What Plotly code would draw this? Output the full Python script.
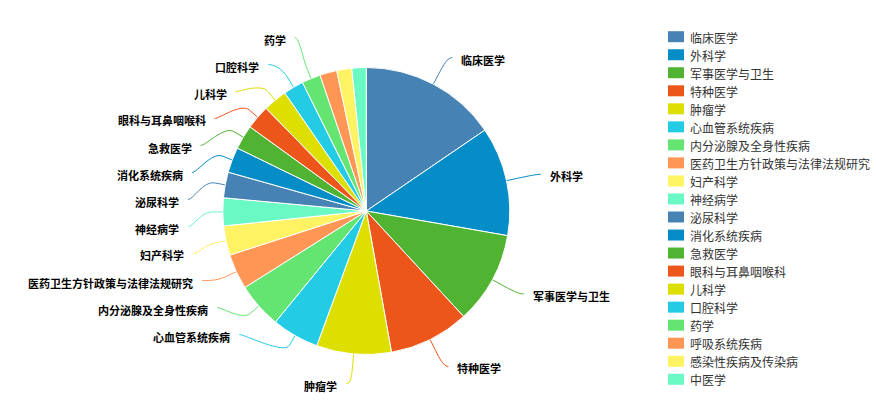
import math
import plotly.graph_objects as go

# ---- data -------------------------------------------------------------
categories = [
    "临床医学", "外科学", "军事医学与卫生", "特种医学", "肿瘤学",
    "心血管系统疾病", "内分泌腺及全身性疾病", "医药卫生方针政策与法律法规研究",
    "妇产科学", "神经病学", "泌尿科学", "消化系统疾病", "急救医学",
    "眼科与耳鼻咽喉科", "儿科学", "口腔科学", "药学", "呼吸系统疾病",
    "感染性疾病及传染病", "中医学",
]
values = [557, 442, 374, 326, 303, 191, 185, 143, 119, 113,
          104, 103, 99, 98, 97, 82, 76, 69, 61, 58]
palette = ["#4682B4", "#058DC7", "#50B432", "#ED561B", "#DDDF00",
           "#24CBE5", "#64E572", "#FF9655", "#FFF263", "#6AF9C4"]
colors = [palette[i % len(palette)] for i in range(len(categories))]

# ---- geometry (pixels) ------------------------------------------------
W, H = 876, 407
CX, CY, RAD = 366.3, 211.0, 143.5
LABEL_DIST = 30          # label distance outside the pie
LABEL_H = 27             # height of one label slot
CONNECTOR_OFFSET = 11    # break point of the connector outside the slice
TEXT_GAP = 12
CONN_GAP = 5


def fx(x):
    return x / W


def fy(y):
    return 1 - y / H


total = float(sum(values))
pts = []
cum = 0.0
for i, v in enumerate(values):
    mid = (cum + v / 2.0) / total * 2 * math.pi   # clockwise from 12 o'clock
    cum += v
    s, c = math.sin(mid), math.cos(mid)
    pts.append({
        "i": i, "v": v, "mid": mid,
        "left": s < 0,
        "ny": CY - (RAD + LABEL_DIST) * c,
        "edge": (CX + RAD * s, CY - RAD * c),
        "brk": (CX + (RAD + CONNECTOR_OFFSET) * s, CY - (RAD + CONNECTOR_OFFSET) * c),
    })

RL = RAD + LABEL_DIST


def get_x(y, left):
    d = max(-1.0, min(1.0, (y - CY) / RL))
    return CX + (-1 if left else 1) * math.cos(math.asin(d)) * RL


# slot based label placement, each half of the pie on its own
placed = []
for left in (False, True):
    half = [p for p in pts if p["left"] == left]
    half.sort(key=lambda p: p["ny"])
    slots = []
    pos = CY - RL
    while pos <= CY + RL + 1e-9:
        slots.append(pos)
        pos += LABEL_H
    n_slots = len(slots)
    # too many labels for the slots: drop the smallest slices
    if len(half) > n_slots:
        ranked = sorted(half, key=lambda p: -p["v"])
        keep = set(p["i"] for p in ranked[:n_slots])
        half = [p for p in half if p["i"] in keep]
    n = len(half)
    used = []
    for j, p in enumerate(half):
        best, idx = 1e9, 0
        for k in range(n_slots):
            d = abs((slots[k] if slots[k] is not None else 0) - p["ny"])
            if d < best:
                best, idx = d, k
        if idx < j and j < n_slots and slots[j] is not None:
            idx = j
        elif n_slots < n - j + idx and j < n_slots and slots[j] is not None:
            idx = n_slots - n + j
            while slots[idx] is None:
                idx += 1
        else:
            while slots[idx] is None:
                idx += 1
        used.append((idx, slots[idx]))
        slots[idx] = None
    used.sort(key=lambda t: t[1])

    def free(k):
        return k < 0 or k >= n_slots or slots[k] is not None

    top = CY - RL
    bottom = CY - RL + (n_slots - 1) * LABEL_H
    for p, (idx, sy) in zip(half, used):
        y = sy
        # a free neighbouring slot lets the label keep its natural height
        if (p["ny"] > y and free(idx + 1)) or (p["ny"] < y and free(idx - 1)):
            y = min(max(0, p["ny"]), H)
        at_end = abs(y - top) < 1e-6 or abs(y - bottom) < 1e-6
        x = get_x(p["ny"] if at_end else y, left)
        placed.append((p, x, y))

fig = go.Figure(go.Pie(
    labels=categories,
    values=values,
    sort=False,
    direction="clockwise",
    rotation=0,
    marker=dict(colors=colors, line=dict(color="#FFFFFF", width=1)),
    textinfo="none",
    showlegend=False,
    domain=dict(x=[fx(CX - RAD), fx(CX + RAD)], y=[fy(CY + RAD), fy(CY - RAD)]),
))

annotations = []
shapes = []
for p, x, y in placed:
    left = p["left"]
    sgn = -1 if left else 1
    ex, ey = p["edge"]
    bx, by = p["brk"]
    sx = x + sgn * CONN_GAP
    path = "M{:.5f},{:.5f} C{:.5f},{:.5f} {:.5f},{:.5f} {:.5f},{:.5f} L{:.5f},{:.5f}".format(
        fx(sx), fy(y), fx(x), fy(y),
        fx(2 * bx - ex), fy(2 * by - ey), fx(bx), fy(by), fx(ex), fy(ey))
    shapes.append(dict(type="path", xref="paper", yref="paper", path=path,
                       line=dict(color=colors[p["i"]], width=1), layer="below"))
    annotations.append(dict(
        x=fx(x + sgn * TEXT_GAP), y=fy(y + 2), xref="paper", yref="paper",
        text=categories[p["i"]], showarrow=False,
        xanchor="right" if left else "left", yanchor="middle",
        font=dict(family="Noto Sans CJK SC", size=11, color="#000000", weight="bold"),
    ))

# legend on the right
LEG_X, LEG_Y0, LEG_STEP = 668, 36.7, 18.03
for i, name in enumerate(categories):
    yc = LEG_Y0 + i * LEG_STEP
    shapes.append(dict(type="rect", xref="paper", yref="paper",
                       x0=fx(LEG_X), x1=fx(LEG_X + 16), y0=fy(yc + 5.5), y1=fy(yc - 5.5),
                       fillcolor=colors[i], line=dict(width=0)))
    annotations.append(dict(
        x=fx(LEG_X + 20), y=fy(yc + 0.5), xref="paper", yref="paper",
        text=name, showarrow=False, xanchor="left", yanchor="middle",
        font=dict(family="Noto Sans CJK SC", size=12, color="#333333"),
    ))

fig.update_layout(
    width=W, height=H,
    margin=dict(l=0, r=0, t=0, b=0),
    paper_bgcolor="#FFFFFF",
    plot_bgcolor="#FFFFFF",
    shapes=shapes,
    annotations=annotations,
)

fig.write_html("out.html")
